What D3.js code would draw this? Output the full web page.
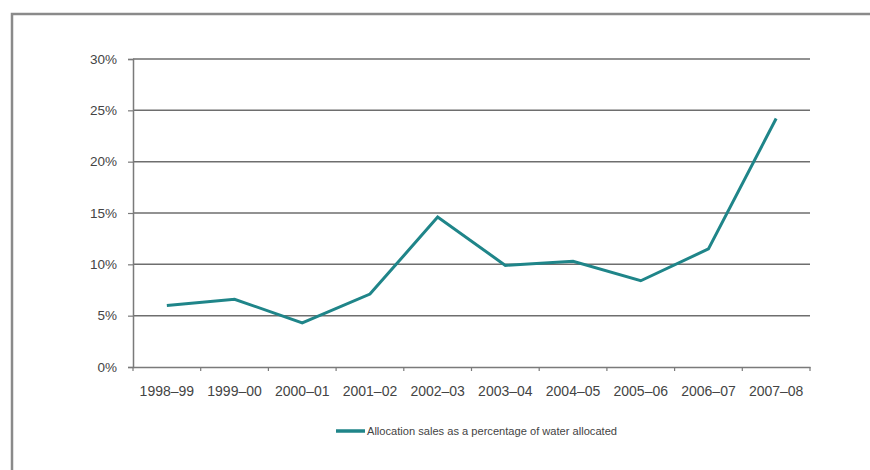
<!DOCTYPE html>
<html><head><meta charset="utf-8">
<script src="https://cdn.jsdelivr.net/npm/d3@7"></script>
<style>
html,body{margin:0;padding:0;background:#fff;}
svg{display:block;font-family:"Liberation Sans",Arial,sans-serif;}
</style></head>
<body>
<svg id="chart" width="870" height="470"></svg>
<script>
const categories = ["1998–99","1999–00","2000–01","2001–02","2002–03","2003–04","2004–05","2005–06","2006–07","2007–08"];
const values = [6.0, 6.6, 4.3, 7.1, 14.6, 9.9, 10.3, 8.4, 11.5, 24.2];
const yTicks = [0, 5, 10, 15, 20, 25, 30];
const seriesName = "Allocation sales as a percentage of water allocated";

const svg = d3.select("#chart");
// outer frame
svg.append("path").attr("d","M12,470 V14 H870").attr("fill","none").attr("stroke","#8a8a8a").attr("stroke-width",2.5);

const m = {left:133, right:810, top:59, bottom:367};
const x = d3.scaleBand().domain(categories).range([m.left, m.right]);
const y = d3.scaleLinear().domain([0,30]).range([m.bottom, m.top]);

// gridlines
svg.append("g").selectAll("line").data(yTicks.filter(t=>t>0)).join("line")
  .attr("x1",m.left).attr("x2",m.right).attr("y1",d=>y(d)).attr("y2",d=>y(d))
  .attr("stroke","#6e6e6e").attr("stroke-width",1.5);

// y axis
const ya = svg.append("g").attr("transform",`translate(${m.left},0)`)
  .call(d3.axisLeft(y).tickValues(yTicks).tickFormat(d=>d+"%").tickSize(5).tickPadding(11));
ya.select(".domain").attr("stroke","#7a7a7a").attr("stroke-width",1.5);
ya.selectAll(".tick line").attr("stroke","#7a7a7a").attr("stroke-width",1.2);
ya.selectAll("text").attr("font-size",13.5).attr("fill","#444");

// x axis
const xa = svg.append("g").attr("transform",`translate(0,${m.bottom})`)
  .call(d3.axisBottom(x).tickSize(0).tickPadding(19));
xa.select(".domain").attr("stroke","#7a7a7a").attr("stroke-width",1.5);
xa.selectAll("text").attr("font-size",14).attr("fill","#444");
// band-boundary ticks
svg.append("g").selectAll("line").data(categories).join("line")
  .attr("x1",d=>x(d)+x.bandwidth()).attr("x2",d=>x(d)+x.bandwidth())
  .attr("y1",m.bottom).attr("y2",m.bottom+4).attr("stroke","#7a7a7a").attr("stroke-width",1.2);
svg.append("line").attr("x1",m.left).attr("x2",m.left).attr("y1",m.bottom).attr("y2",m.bottom+4).attr("stroke","#7a7a7a").attr("stroke-width",1.2);

// line
const line = d3.line().x((d,i)=>x(categories[i])+x.bandwidth()/2).y(d=>y(d));
svg.append("path").datum(values).attr("d",line).attr("fill","none")
  .attr("stroke","#1f8589").attr("stroke-width",3).attr("stroke-linejoin","miter");

// legend
const lg = svg.append("g").attr("transform","translate(336,431)");
lg.append("line").attr("x1",0).attr("x2",29).attr("y1",0).attr("y2",0).attr("stroke","#1f8589").attr("stroke-width",3.5);
lg.append("text").attr("x",31).attr("y",4).attr("font-size",11).attr("fill","#444")
  .attr("textLength",250).attr("lengthAdjust","spacingAndGlyphs").text(seriesName);
</script>
</body></html>
